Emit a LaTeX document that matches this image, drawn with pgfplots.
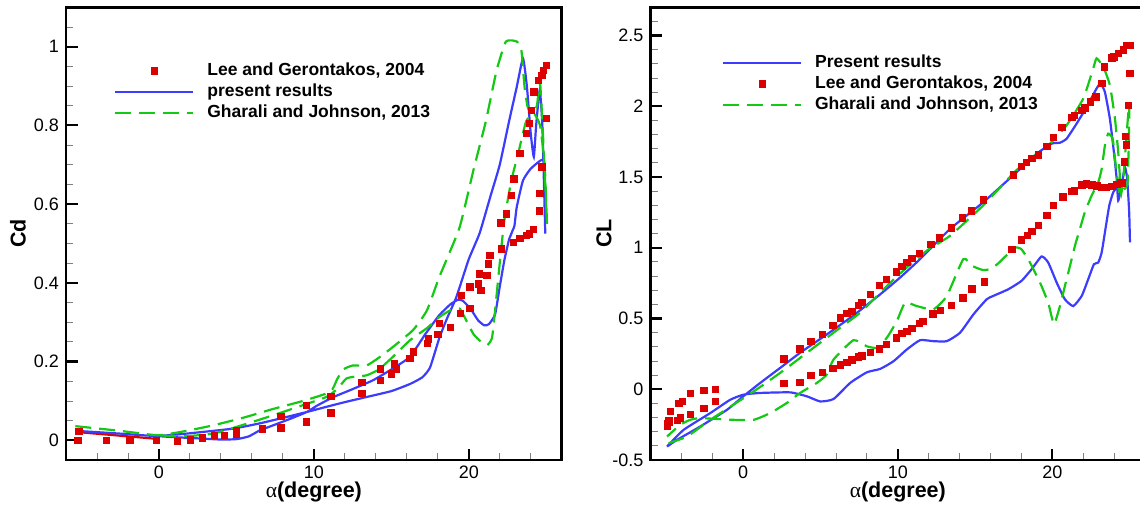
\documentclass[border=0pt]{standalone}
\usepackage{fontspec}
\setmainfont{Liberation Sans}
\newfontfamily\greekserif{Liberation Serif}
\usepackage{pgfplots}
\pgfplotsset{compat=1.18}
\definecolor{myred}{RGB}{220,0,0}
\definecolor{myblue}{RGB}{60,60,255}
\definecolor{mygreen}{RGB}{20,200,20}
\pgfplotsset{
 myaxis/.style={
  scale only axis, height=452.7pt,
  xmin=-6, xmax=26,
  xtick={0,10,20},
  minor xtick={-4,-2,2,4,6,8,12,14,16,18,22,24},
  tick pos=left, tick align=inside,
  major tick length=11.5pt, minor tick length=7pt,
  every major tick/.append style={line width=2.2pt, black},
  every minor tick/.append style={line width=0.9pt, gray},
  axis line style={line width=2.5pt},
  /pgf/number format/assume math mode=true,
  ticklabel style={font=\fontsize{18}{18}\selectfont},
  xticklabel style={inner sep=0pt, anchor=north, yshift=-6pt},
  yticklabel style={inner sep=0pt, anchor=east, xshift=-7pt},
  label style={font=\fontsize{21.5}{21.5}\selectfont\bfseries},
  xlabel={{\greekserif\mdseries α}(degree)},
  xlabel style={at={(axis description cs:0.5,-0.0707)}, anchor=center},
  legend style={draw=none, fill=none, font=\fontsize{17.5}{17.5}\selectfont\bfseries,
    anchor=north west, inner sep=0pt, row sep=4pt,
    nodes={inner sep=0pt, text height=13pt, text depth=4pt},
    /tikz/every odd column/.append style={column sep=13pt}},
  legend cell align=left,
  legend image code/.code={\draw[mark repeat=2,mark phase=2,#1] plot coordinates {(0pt,0pt)(39pt,0pt)(78pt,0pt)};},
  unbounded coords=jump,
 },
 redsq/.style={only marks, mark=square*, mark size=3.2pt, color=myred, mark options={draw=myred, fill=myred}},
 blueline/.style={color=myblue, line width=2.2pt, no marks, smooth, tension=0.3},
 greenline/.style={color=mygreen, line width=2.2pt, no marks, dash pattern=on 16pt off 8pt, smooth, tension=0.3},
}
\begin{document}
\begin{tikzpicture}
% ---------------- Cd ----------------
\begin{axis}[myaxis, at={(66pt,49pt)}, anchor=south west, width=495.7pt,
  ymin=-0.05, ymax=1.1, ytick={0,0.2,0.4,0.6,0.8,1},
  minor ytick={0.05,0.1,0.15,0.25,0.3,0.35,0.45,0.5,0.55,0.65,0.7,0.75,0.85,0.9,0.95,1.05},
  ylabel={Cd}, ylabel style={at={(axis description cs:-0.097,0.5)}, anchor=center},
  legend style={at={(axis description cs:0.0968,0.879)}}]
\addplot[redsq] coordinates {
(-5.24,0) (-5.19,0.023) (-3.4,0) (-1.9,0) (-0.19,0) (1.19,-0.002) (2.0,0.002) (2.79,0.007)
(3.57,0.013) (4.2,0.013) (5.0,0.017) (5.0,0.025) (6.67,0.03) (7.86,0.032) (7.86,0.061)
(9.52,0.047) (9.52,0.089) (11.1,0.07) (11.1,0.112) (13.1,0.12) (13.1,0.148) (14.3,0.153)
(14.3,0.182) (15.0,0.169) (15.2,0.195) (15.3,0.182) (16.2,0.208) (16.4,0.225) (17.3,0.246)
(17.4,0.258) (18.0,0.269) (18.1,0.298) (18.8,0.288) (19.43,0.323) (19.53,0.369) (20.07,0.335) (20.07,0.39)
(20.6,0.398) (20.67,0.423) (20.76,0.381) (21.15,0.42) (21.25,0.449) (21.36,0.47) (22.1,0.487)
(22.05,0.553) (22.4,0.576) (22.75,0.623) (22.9,0.665) (22.86,0.504) (23.3,0.513) (23.7,0.521)
(23.9,0.525) (24.15,0.537) (23.3,0.73) (23.7,0.78) (23.9,0.805) (24.04,0.839) (24.2,0.886)
(24.5,0.915) (24.7,0.928) (24.8,0.94) (25.0,0.953) (25.0,0.818) (24.7,0.695) (24.58,0.627) (24.53,0.583)
};
\addlegendentry{Lee and Gerontakos, 2004}
\addplot[myred, line width=2.2pt, forget plot] coordinates {(-5.26,0.021) (-0.21,0.004)};
\addplot[blueline] coordinates {
(-5.3,0.024) (-2.5,0.017) (-0.2,0.011) (1.5,0.016) (3,0.022) (4.83,0.03) (6.5,0.043) (8,0.057)
(9.55,0.072) (10.8,0.085) (12,0.097) (13.4,0.11) (15,0.125) (16.2,0.143) (17.0,0.16) (17.5,0.185)
(18.1,0.26) (18.6,0.31) (19.2,0.364) (20.0,0.46) (20.7,0.526) (21.4,0.62) (22.0,0.70) (22.6,0.81)
(23.1,0.898) (23.5,0.97) (23.75,0.9) (24.0,0.78) (24.2,0.72) (24.35,0.8) (24.58,0.89) (24.75,0.8) (24.94,0.525)
(nan,nan)
(24.9,0.715) (24.6,0.71) (24.0,0.69) (23.5,0.66) (23.1,0.593) (22.95,0.545) (22.85,0.535) (22.7,0.52)
(22.6,0.51) (22.3,0.458) (22.0,0.39) (21.7,0.32) (21.3,0.295) (21.0,0.292) (20.6,0.305) (20.1,0.335)
(19.6,0.355) (19.3,0.357) (18.8,0.345) (18.1,0.318) (17.2,0.27) (16.2,0.212) (15,0.18) (13.84,0.153)
(12.5,0.13) (11.27,0.11) (10.2,0.088) (9.55,0.072) (8.5,0.055) (7.5,0.04) (6.5,0.025) (5.8,0.01)
(5,0.003) (4,0.002) (2.5,0.005) (1,0.008) (-0.2,0.011)
};
\addlegendentry{present results}
\addplot[greenline] coordinates {
(-5.4,0.036) (-2.5,0.024) (-0.1,0.013) (1.5,0.022) (3.5,0.038) (5.5,0.058) (7.4,0.08) (9.3,0.1)
(11.06,0.123) (11.5,0.155) (11.9,0.18) (12.5,0.19) (13.4,0.19) (14.2,0.21) (15.1,0.237) (16.4,0.28)
(17.3,0.33) (18.1,0.415) (19.4,0.54) (20.3,0.686) (21.1,0.81) (21.8,0.94) (22.4,1.013) (23.1,1.013)
(23.4,0.99) (23.6,0.898) (23.8,0.847) (24.1,0.83) (24.4,0.85) (24.6,0.91) (24.8,0.77) (25.05,0.55)
(24.9,0.7) (24.6,0.8) (24.2,0.83) (23.7,0.81) (23.2,0.73) (22.75,0.66) (22.3,0.56) (22.0,0.45)
(21.7,0.33) (21.5,0.26) (21.2,0.242) (20.8,0.25) (20.3,0.27) (19.9,0.3) (19.4,0.335) (18.8,0.33)
(18.1,0.313) (17.3,0.285) (16.2,0.254) (15.1,0.212) (14.2,0.18) (13.4,0.165) (12.7,0.162) (12.1,0.157)
(11.5,0.13) (10.8,0.11) (9.2,0.088) (7.4,0.064) (5.5,0.04) (3.5,0.017) (1.5,0.01) (-0.1,0.013)
};
\addlegendentry{Gharali and Johnson, 2013}
\end{axis}
% ---------------- CL ----------------
\begin{axis}[myaxis, at={(650.5pt,49pt)}, anchor=south west, width=494.6pt,
  ymin=-0.5, ymax=2.7, ytick={-0.5,0,0.5,1,1.5,2,2.5},
  minor ytick={-0.4,-0.3,...,2.65},
  ylabel={CL}, ylabel style={at={(axis description cs:-0.094,0.5)}, anchor=center},
  legend style={at={(axis description cs:0.144,0.897)}}]
\addplot[blueline] coordinates {
(-4.93,-0.405) (-4.29,-0.358) (-2.78,-0.263) (-1.05,-0.145) (0,-0.05) (1.1,0.045) (2.39,0.151)
(3.68,0.258) (5.41,0.388) (7.13,0.522) (8.86,0.671) (10.15,0.79) (11.44,0.92) (13.38,1.133)
(15.53,1.322) (17.69,1.535) (18.98,1.665) (19.95,1.736) (20.49,1.743) (20.92,1.771) (21.57,1.878)
(22.22,1.996) (22.86,2.126) (23.12,2.162) (23.4,2.1) (23.72,1.913) (23.98,1.677) (24.16,1.488)
(24.26,1.334) (24.48,1.44) (24.69,1.57) (24.84,1.488) (24.97,1.251) (25.02,1.038)
(nan,nan)
(24.45,1.45) (24.2,1.43) (23.94,1.393) (23.68,1.298) (23.4,1.109) (23.19,0.967) (22.97,0.896)
(22.69,0.884) (22.32,0.778) (21.9,0.66) (21.35,0.588) (20.81,0.636) (20.28,0.754) (19.73,0.896)
(19.3,0.939) (18.66,0.849) (18.0,0.766) (17.15,0.707) (16.18,0.66) (15.75,0.636) (14.89,0.529)
(14.03,0.4) (13.17,0.34) (12.3,0.34) (11.44,0.347) (10.58,0.281) (9.72,0.198) (8.86,0.144)
(8.0,0.12) (6.92,0.045) (5.84,-0.069) (4.98,-0.086) (4.12,-0.05) (3.04,-0.022) (1.1,-0.026)
(0.02,-0.038) (-0.84,-0.074) (-2.13,-0.168) (-3.86,-0.287) (-4.93,-0.405)
};
\addlegendentry{Present results}
\addplot[redsq] coordinates {
(-4.93,-0.263) (-4.83,-0.228) (-4.72,-0.157) (-4.18,-0.097) (-3.96,-0.085) (-3.43,-0.026)
(-2.56,-0.008) (-1.81,0.002) (-1.81,-0.086) (-2.56,-0.133) (-3.43,-0.175) (-4.07,-0.2)
(-4.29,-0.22) (-4.83,-0.22) (-4.93,-0.24)
(2.61,0.215) (3.64,0.286) (4.37,0.34) (5.09,0.388) (5.8,0.451) (6.27,0.506) (6.7,0.537)
(7.02,0.553) (7.45,0.593) (7.67,0.617) (8.21,0.671) (8.81,0.735) (9.24,0.778) (9.89,0.83)
(10.26,0.872) (10.58,0.9) (10.9,0.925) (11.4,0.962) (12.12,1.025) (12.66,1.072) (13.46,1.143)
(14.16,1.214) (14.73,1.262) (15.54,1.34) (17.47,1.516) (18.0,1.575) (18.3,1.605) (18.66,1.633)
(19.09,1.658) (19.63,1.717) (20.06,1.783) (20.6,1.854) (21.25,1.925) (21.4,1.936) (21.9,1.972)
(22.1,1.99) (22.43,2.032) (22.8,2.067) (23.19,2.162) (23.34,2.28) (23.83,2.344) (23.97,2.35)
(24.26,2.375) (24.6,2.4) (24.78,2.43) (25.0,2.434) (25.0,2.233) (24.9,2.01) (24.7,1.79)
(24.76,1.729) (24.63,1.61) (24.4,1.464)
(2.61,0.045) (3.64,0.052) (4.37,0.099) (5.09,0.12) (5.8,0.151) (6.27,0.175) (6.7,0.191)
(7.02,0.21) (7.45,0.229) (7.67,0.238) (8.21,0.262) (8.81,0.286) (9.24,0.317) (9.89,0.364)
(10.26,0.395) (10.58,0.411) (10.9,0.43) (11.4,0.466) (11.6,0.482) (12.26,0.534) (12.73,0.558)
(13.45,0.596) (14.2,0.648) (14.78,0.712) (15.58,0.759) (17.37,0.99) (18.0,1.057) (18.36,1.09)
(18.66,1.116) (19.09,1.161) (19.63,1.232) (20.06,1.303) (20.66,1.362) (21.25,1.4) (21.4,1.404)
(21.9,1.447) (22.2,1.452) (22.54,1.447) (22.86,1.44) (23.19,1.428) (23.5,1.428) (23.83,1.437)
(24.16,1.451) (24.48,1.459)
};
\addlegendentry{Lee and Gerontakos, 2004}
\addplot[greenline] coordinates {
(-4.83,-0.381) (-3.64,-0.334) (-2.13,-0.216) (-0.63,-0.109) (0.88,0) (2.39,0.116) (4.12,0.258)
(5.84,0.4) (7.56,0.541) (9.29,0.73) (10.58,0.861) (12,0.99) (13.38,1.085) (15.53,1.3) (17.69,1.55)
(19.84,1.736) (20.92,1.866) (22.0,2.055) (22.65,2.27) (22.86,2.339) (23.29,2.28) (23.72,2.15)
(24.05,1.913) (24.26,1.677) (24.37,1.5) (24.45,1.38) (24.6,1.5) (24.8,1.795) (24.97,2.02)
(24.95,1.75) (24.88,1.5) (24.84,1.44) (24.58,1.405) (24.37,1.38) (24.26,1.44) (24.05,1.63)
(23.9,1.771) (23.61,1.807) (23.4,1.724) (23.19,1.558) (22.97,1.464) (22.54,1.369) (22.1,1.251)
(21.78,1.133) (21.46,1.014) (21.14,0.872) (20.81,0.73) (20.49,0.588) (20.1,0.46) (19.73,0.612)
(19.2,0.754) (18.55,0.896) (18.0,0.99) (17.58,1.003) (17.2,0.965) (16.5,0.89) (16.0,0.85)
(15.5,0.843) (14.85,0.87) (14.24,0.92) (13.17,0.659) (12.3,0.565) (11.23,0.588) (10.47,0.612)
(9.94,0.482) (9.29,0.364) (8.64,0.293) (7.99,0.304) (7.13,0.347) (5.84,0.21) (5.41,0.104)
(4.76,0.045) (3.68,-0.026) (2.82,-0.097) (1.75,-0.168) (0.67,-0.216) (-0.63,-0.216) (-2.78,-0.204)
(-3.43,-0.216) (-4.07,-0.251) (-4.93,-0.334)
};
\addlegendentry{Gharali and Johnson, 2013}
\end{axis}
\pgfresetboundingbox
\useasboundingbox (0,0) rectangle (1140pt,509pt);
\end{tikzpicture}
\end{document}
